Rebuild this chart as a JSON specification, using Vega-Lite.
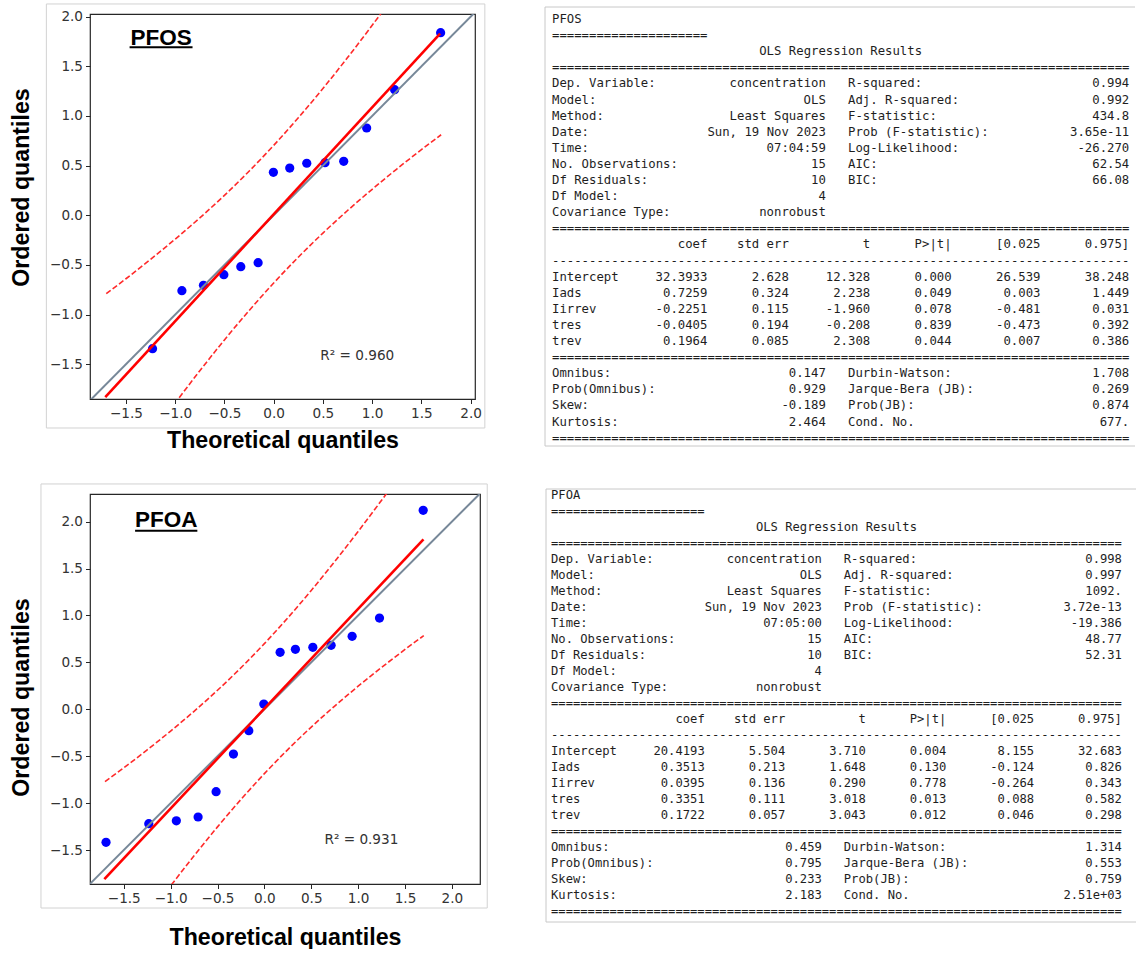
{
"$schema": "https://vega.github.io/schema/vega-lite/v6.json",
"padding": {"left": 9, "top": 2, "right": 0, "bottom": 0},
"background": "white",
"datasets": {
"one": [{}],
"pfos_pts": [
{"tq": -1.230, "oq": -1.343}, {"tq": -0.932, "oq": -0.759}, {"tq": -0.713, "oq": -0.705}, {"tq": -0.506, "oq": -0.598}, {"tq": -0.334, "oq": -0.518}, {"tq": -0.158, "oq": -0.477}, {"tq": -0.003, "oq": 0.433}, {"tq": 0.163, "oq": 0.476}, {"tq": 0.336, "oq": 0.524}, {"tq": 0.521, "oq": 0.530}, {"tq": 0.711, "oq": 0.544}, {"tq": 0.944, "oq": 0.879}, {"tq": 1.228, "oq": 1.265}, {"tq": 1.695, "oq": 1.839}
],
"pfoa_pts": [
{"tq": -1.689, "oq": -1.418}, {"tq": -1.233, "oq": -1.219}, {"tq": -0.939, "oq": -1.188}, {"tq": -0.707, "oq": -1.148}, {"tq": -0.515, "oq": -0.878}, {"tq": -0.330, "oq": -0.477}, {"tq": -0.166, "oq": -0.228}, {"tq": -0.006, "oq": 0.056}, {"tq": 0.168, "oq": 0.607}, {"tq": 0.331, "oq": 0.640}, {"tq": 0.517, "oq": 0.661}, {"tq": 0.712, "oq": 0.682}, {"tq": 0.936, "oq": 0.778}, {"tq": 1.228, "oq": 0.973}, {"tq": 1.694, "oq": 2.121}
],
"pfos_lines": [
{"s": "ref", "x": -2.5, "y": -2.5}, {"s": "ref", "x": 2.5, "y": 2.5},
{"s": "fit", "x": -1.71, "y": -1.83}, {"s": "fit", "x": 1.69, "y": 1.83},
{"s": "up", "x": -1.7, "y": -0.789}, {"s": "up", "x": -1.5, "y": -0.639}, {"s": "up", "x": -1.25, "y": -0.444}, {"s": "up", "x": -1.0, "y": -0.240}, {"s": "up", "x": -0.75, "y": -0.026}, {"s": "up", "x": -0.5, "y": 0.201}, {"s": "up", "x": -0.25, "y": 0.444}, {"s": "up", "x": 0, "y": 0.704}, {"s": "up", "x": 0.25, "y": 0.982}, {"s": "up", "x": 0.5, "y": 1.277}, {"s": "up", "x": 0.75, "y": 1.588}, {"s": "up", "x": 1.0, "y": 1.913}, {"s": "up", "x": 1.25, "y": 2.248},
{"s": "lo", "x": -1.25, "y": -2.226}, {"s": "lo", "x": -1.0, "y": -1.891}, {"s": "lo", "x": -0.75, "y": -1.566}, {"s": "lo", "x": -0.5, "y": -1.255}, {"s": "lo", "x": -0.25, "y": -0.960}, {"s": "lo", "x": 0, "y": -0.682}, {"s": "lo", "x": 0.25, "y": -0.422}, {"s": "lo", "x": 0.5, "y": -0.179}, {"s": "lo", "x": 0.75, "y": 0.048}, {"s": "lo", "x": 1.0, "y": 0.262}, {"s": "lo", "x": 1.25, "y": 0.466}, {"s": "lo", "x": 1.5, "y": 0.661}, {"s": "lo", "x": 1.7, "y": 0.811}
],
"pfoa_lines": [
{"s": "ref", "x": -2.5, "y": -2.5}, {"s": "ref", "x": 2.5, "y": 2.5},
{"s": "fit", "x": -1.707, "y": -1.809}, {"s": "fit", "x": 1.697, "y": 1.812},
{"s": "up", "x": -1.7, "y": -0.771}, {"s": "up", "x": -1.5, "y": -0.624}, {"s": "up", "x": -1.25, "y": -0.432}, {"s": "up", "x": -1.0, "y": -0.232}, {"s": "up", "x": -0.75, "y": -0.021}, {"s": "up", "x": -0.5, "y": 0.203}, {"s": "up", "x": -0.25, "y": 0.443}, {"s": "up", "x": 0, "y": 0.700}, {"s": "up", "x": 0.25, "y": 0.975}, {"s": "up", "x": 0.5, "y": 1.267}, {"s": "up", "x": 0.75, "y": 1.575}, {"s": "up", "x": 1.0, "y": 1.896}, {"s": "up", "x": 1.25, "y": 2.228}, {"s": "up", "x": 1.5, "y": 2.569},
{"s": "lo", "x": -1.25, "y": -2.214}, {"s": "lo", "x": -1.0, "y": -1.882}, {"s": "lo", "x": -0.75, "y": -1.561}, {"s": "lo", "x": -0.5, "y": -1.253}, {"s": "lo", "x": -0.25, "y": -0.961}, {"s": "lo", "x": 0, "y": -0.686}, {"s": "lo", "x": 0.25, "y": -0.429}, {"s": "lo", "x": 0.5, "y": -0.189}, {"s": "lo", "x": 0.75, "y": 0.035}, {"s": "lo", "x": 1.0, "y": 0.246}, {"s": "lo", "x": 1.25, "y": 0.446}, {"s": "lo", "x": 1.5, "y": 0.638}, {"s": "lo", "x": 1.7, "y": 0.785}
],
"pfos_tbl": [
{"r": 0, "c": 0, "t": "PFOS"},
{"r": 1, "c": 0, "t": "====================="},
{"r": 2, "c": 28, "t": "OLS Regression Results"},
{"r": 3, "c": 0, "t": "=============================================================================="},
{"r": 4, "c": 0, "t": "Dep. Variable:"}, {"r": 4, "c": 24, "t": "concentration"}, {"r": 4, "c": 40, "t": "R-squared:"}, {"r": 4, "c": 73, "t": "0.994"},
{"r": 5, "c": 0, "t": "Model:"}, {"r": 5, "c": 34, "t": "OLS"}, {"r": 5, "c": 40, "t": "Adj. R-squared:"}, {"r": 5, "c": 73, "t": "0.992"},
{"r": 6, "c": 0, "t": "Method:"}, {"r": 6, "c": 24, "t": "Least Squares"}, {"r": 6, "c": 40, "t": "F-statistic:"}, {"r": 6, "c": 73, "t": "434.8"},
{"r": 7, "c": 0, "t": "Date:"}, {"r": 7, "c": 21, "t": "Sun, 19 Nov 2023"}, {"r": 7, "c": 40, "t": "Prob (F-statistic):"}, {"r": 7, "c": 70, "t": "3.65e-11"},
{"r": 8, "c": 0, "t": "Time:"}, {"r": 8, "c": 29, "t": "07:04:59"}, {"r": 8, "c": 40, "t": "Log-Likelihood:"}, {"r": 8, "c": 71, "t": "-26.270"},
{"r": 9, "c": 0, "t": "No. Observations:"}, {"r": 9, "c": 35, "t": "15"}, {"r": 9, "c": 40, "t": "AIC:"}, {"r": 9, "c": 73, "t": "62.54"},
{"r": 10, "c": 0, "t": "Df Residuals:"}, {"r": 10, "c": 35, "t": "10"}, {"r": 10, "c": 40, "t": "BIC:"}, {"r": 10, "c": 73, "t": "66.08"},
{"r": 11, "c": 0, "t": "Df Model:"}, {"r": 11, "c": 36, "t": "4"},
{"r": 12, "c": 0, "t": "Covariance Type:"}, {"r": 12, "c": 28, "t": "nonrobust"},
{"r": 13, "c": 0, "t": "=============================================================================="},
{"r": 14, "c": 17, "t": "coef"}, {"r": 14, "c": 25, "t": "std err"}, {"r": 14, "c": 42, "t": "t"}, {"r": 14, "c": 49, "t": "P>|t|"}, {"r": 14, "c": 60, "t": "[0.025"}, {"r": 14, "c": 72, "t": "0.975]"},
{"r": 15, "c": 0, "t": "------------------------------------------------------------------------------"},
{"r": 16, "c": 0, "t": "Intercept"}, {"r": 16, "c": 14, "t": "32.3933"}, {"r": 16, "c": 27, "t": "2.628"}, {"r": 16, "c": 37, "t": "12.328"}, {"r": 16, "c": 49, "t": "0.000"}, {"r": 16, "c": 60, "t": "26.539"}, {"r": 16, "c": 72, "t": "38.248"},
{"r": 17, "c": 0, "t": "Iads"}, {"r": 17, "c": 15, "t": "0.7259"}, {"r": 17, "c": 27, "t": "0.324"}, {"r": 17, "c": 38, "t": "2.238"}, {"r": 17, "c": 49, "t": "0.049"}, {"r": 17, "c": 61, "t": "0.003"}, {"r": 17, "c": 73, "t": "1.449"},
{"r": 18, "c": 0, "t": "Iirrev"}, {"r": 18, "c": 14, "t": "-0.2251"}, {"r": 18, "c": 27, "t": "0.115"}, {"r": 18, "c": 37, "t": "-1.960"}, {"r": 18, "c": 49, "t": "0.078"}, {"r": 18, "c": 60, "t": "-0.481"}, {"r": 18, "c": 73, "t": "0.031"},
{"r": 19, "c": 0, "t": "tres"}, {"r": 19, "c": 14, "t": "-0.0405"}, {"r": 19, "c": 27, "t": "0.194"}, {"r": 19, "c": 37, "t": "-0.208"}, {"r": 19, "c": 49, "t": "0.839"}, {"r": 19, "c": 60, "t": "-0.473"}, {"r": 19, "c": 73, "t": "0.392"},
{"r": 20, "c": 0, "t": "trev"}, {"r": 20, "c": 15, "t": "0.1964"}, {"r": 20, "c": 27, "t": "0.085"}, {"r": 20, "c": 38, "t": "2.308"}, {"r": 20, "c": 49, "t": "0.044"}, {"r": 20, "c": 61, "t": "0.007"}, {"r": 20, "c": 73, "t": "0.386"},
{"r": 21, "c": 0, "t": "=============================================================================="},
{"r": 22, "c": 0, "t": "Omnibus:"}, {"r": 22, "c": 32, "t": "0.147"}, {"r": 22, "c": 40, "t": "Durbin-Watson:"}, {"r": 22, "c": 73, "t": "1.708"},
{"r": 23, "c": 0, "t": "Prob(Omnibus):"}, {"r": 23, "c": 32, "t": "0.929"}, {"r": 23, "c": 40, "t": "Jarque-Bera (JB):"}, {"r": 23, "c": 73, "t": "0.269"},
{"r": 24, "c": 0, "t": "Skew:"}, {"r": 24, "c": 31, "t": "-0.189"}, {"r": 24, "c": 40, "t": "Prob(JB):"}, {"r": 24, "c": 73, "t": "0.874"},
{"r": 25, "c": 0, "t": "Kurtosis:"}, {"r": 25, "c": 32, "t": "2.464"}, {"r": 25, "c": 40, "t": "Cond. No."}, {"r": 25, "c": 74, "t": "677."},
{"r": 26, "c": 0, "t": "=============================================================================="}
],
"pfoa_tbl": [
{"r": 0, "c": 0, "t": "PFOA"},
{"r": 1, "c": 0, "t": "====================="},
{"r": 2, "c": 28, "t": "OLS Regression Results"},
{"r": 3, "c": 0, "t": "=============================================================================="},
{"r": 4, "c": 0, "t": "Dep. Variable:"}, {"r": 4, "c": 24, "t": "concentration"}, {"r": 4, "c": 40, "t": "R-squared:"}, {"r": 4, "c": 73, "t": "0.998"},
{"r": 5, "c": 0, "t": "Model:"}, {"r": 5, "c": 34, "t": "OLS"}, {"r": 5, "c": 40, "t": "Adj. R-squared:"}, {"r": 5, "c": 73, "t": "0.997"},
{"r": 6, "c": 0, "t": "Method:"}, {"r": 6, "c": 24, "t": "Least Squares"}, {"r": 6, "c": 40, "t": "F-statistic:"}, {"r": 6, "c": 73, "t": "1092."},
{"r": 7, "c": 0, "t": "Date:"}, {"r": 7, "c": 21, "t": "Sun, 19 Nov 2023"}, {"r": 7, "c": 40, "t": "Prob (F-statistic):"}, {"r": 7, "c": 70, "t": "3.72e-13"},
{"r": 8, "c": 0, "t": "Time:"}, {"r": 8, "c": 29, "t": "07:05:00"}, {"r": 8, "c": 40, "t": "Log-Likelihood:"}, {"r": 8, "c": 71, "t": "-19.386"},
{"r": 9, "c": 0, "t": "No. Observations:"}, {"r": 9, "c": 35, "t": "15"}, {"r": 9, "c": 40, "t": "AIC:"}, {"r": 9, "c": 73, "t": "48.77"},
{"r": 10, "c": 0, "t": "Df Residuals:"}, {"r": 10, "c": 35, "t": "10"}, {"r": 10, "c": 40, "t": "BIC:"}, {"r": 10, "c": 73, "t": "52.31"},
{"r": 11, "c": 0, "t": "Df Model:"}, {"r": 11, "c": 36, "t": "4"},
{"r": 12, "c": 0, "t": "Covariance Type:"}, {"r": 12, "c": 28, "t": "nonrobust"},
{"r": 13, "c": 0, "t": "=============================================================================="},
{"r": 14, "c": 17, "t": "coef"}, {"r": 14, "c": 25, "t": "std err"}, {"r": 14, "c": 42, "t": "t"}, {"r": 14, "c": 49, "t": "P>|t|"}, {"r": 14, "c": 60, "t": "[0.025"}, {"r": 14, "c": 72, "t": "0.975]"},
{"r": 15, "c": 0, "t": "------------------------------------------------------------------------------"},
{"r": 16, "c": 0, "t": "Intercept"}, {"r": 16, "c": 14, "t": "20.4193"}, {"r": 16, "c": 27, "t": "5.504"}, {"r": 16, "c": 38, "t": "3.710"}, {"r": 16, "c": 49, "t": "0.004"}, {"r": 16, "c": 61, "t": "8.155"}, {"r": 16, "c": 72, "t": "32.683"},
{"r": 17, "c": 0, "t": "Iads"}, {"r": 17, "c": 15, "t": "0.3513"}, {"r": 17, "c": 27, "t": "0.213"}, {"r": 17, "c": 38, "t": "1.648"}, {"r": 17, "c": 49, "t": "0.130"}, {"r": 17, "c": 60, "t": "-0.124"}, {"r": 17, "c": 73, "t": "0.826"},
{"r": 18, "c": 0, "t": "Iirrev"}, {"r": 18, "c": 15, "t": "0.0395"}, {"r": 18, "c": 27, "t": "0.136"}, {"r": 18, "c": 38, "t": "0.290"}, {"r": 18, "c": 49, "t": "0.778"}, {"r": 18, "c": 60, "t": "-0.264"}, {"r": 18, "c": 73, "t": "0.343"},
{"r": 19, "c": 0, "t": "tres"}, {"r": 19, "c": 15, "t": "0.3351"}, {"r": 19, "c": 27, "t": "0.111"}, {"r": 19, "c": 38, "t": "3.018"}, {"r": 19, "c": 49, "t": "0.013"}, {"r": 19, "c": 61, "t": "0.088"}, {"r": 19, "c": 73, "t": "0.582"},
{"r": 20, "c": 0, "t": "trev"}, {"r": 20, "c": 15, "t": "0.1722"}, {"r": 20, "c": 27, "t": "0.057"}, {"r": 20, "c": 38, "t": "3.043"}, {"r": 20, "c": 49, "t": "0.012"}, {"r": 20, "c": 61, "t": "0.046"}, {"r": 20, "c": 73, "t": "0.298"},
{"r": 21, "c": 0, "t": "=============================================================================="},
{"r": 22, "c": 0, "t": "Omnibus:"}, {"r": 22, "c": 32, "t": "0.459"}, {"r": 22, "c": 40, "t": "Durbin-Watson:"}, {"r": 22, "c": 73, "t": "1.314"},
{"r": 23, "c": 0, "t": "Prob(Omnibus):"}, {"r": 23, "c": 32, "t": "0.795"}, {"r": 23, "c": 40, "t": "Jarque-Bera (JB):"}, {"r": 23, "c": 73, "t": "0.553"},
{"r": 24, "c": 0, "t": "Skew:"}, {"r": 24, "c": 32, "t": "0.233"}, {"r": 24, "c": 40, "t": "Prob(JB):"}, {"r": 24, "c": 73, "t": "0.759"},
{"r": 25, "c": 0, "t": "Kurtosis:"}, {"r": 25, "c": 32, "t": "2.183"}, {"r": 25, "c": 40, "t": "Cond. No."}, {"r": 25, "c": 70, "t": "2.51e+03"},
{"r": 26, "c": 0, "t": "=============================================================================="}
]
},
"spacing": 30,
"vconcat": [
{
"spacing": 58,
"hconcat": [
{
"width": 385, "height": 385,
"layer": [
{"data": {"name": "one"}, "mark": {"type": "rect", "fill": "white", "fillOpacity": 0, "stroke": "#d2d2d2", "strokeWidth": 1},
 "encoding": {"x": {"datum": -2.308, "type": "quantitative"}, "x2": {"datum": 2.144}, "y": {"datum": 2.128, "type": "quantitative"}, "y2": {"datum": -2.142}}},
{"data": {"name": "pfos_pts"},
 "mark": {"type": "point", "filled": true, "color": "#0000ff", "size": 85, "opacity": 1},
 "encoding": {
  "x": {"field": "tq", "type": "quantitative", "scale": {"domain": [-1.865, 2.044], "nice": false, "zero": false},
   "axis": {"values": [-1.5, -1, -0.5, 0, 0.5, 1, 1.5, 2], "format": ".1f", "title": "Theoretical quantiles", "titlePadding": 9}},
  "y": {"field": "oq", "type": "quantitative", "scale": {"domain": [-1.85, 2.027], "nice": false, "zero": false},
   "axis": {"values": [-1.5, -1, -0.5, 0, 0.5, 1, 1.5, 2], "format": ".1f", "title": "Ordered quantiles", "titlePadding": 15.5, "titleY": 173}}
 }},
{"data": {"name": "pfos_lines"}, "transform": [{"filter": "datum.s === 'ref'"}],
 "mark": {"type": "line", "color": "#778899", "strokeWidth": 2, "clip": true},
 "encoding": {"x": {"field": "x", "type": "quantitative"}, "y": {"field": "y", "type": "quantitative"}}},
{"data": {"name": "pfos_lines"}, "transform": [{"filter": "datum.s === 'up' || datum.s === 'lo'"}],
 "mark": {"type": "line", "color": "#ff2a2a", "strokeWidth": 1.6, "strokeDash": [5.5, 2.5], "clip": true, "interpolate": "monotone"},
 "encoding": {"x": {"field": "x", "type": "quantitative"}, "y": {"field": "y", "type": "quantitative"}, "detail": {"field": "s"}}},
{"data": {"name": "pfos_lines"}, "transform": [{"filter": "datum.s === 'fit'"}],
 "mark": {"type": "line", "color": "#ff0000", "strokeWidth": 2.6, "clip": true},
 "encoding": {"x": {"field": "x", "type": "quantitative"}, "y": {"field": "y", "type": "quantitative"}}},
{"data": {"name": "one"}, "mark": {"type": "text", "text": "PFOS", "font": "Liberation Sans", "fontSize": 22.5, "fontWeight": "bold", "align": "center", "baseline": "alphabetic", "color": "#000"},
 "encoding": {"x": {"datum": -1.144, "type": "quantitative"}, "y": {"datum": 1.711, "type": "quantitative"}}},
{"data": {"name": "one"}, "mark": {"type": "rule", "color": "#000", "strokeWidth": 2},
 "encoding": {"x": {"datum": -1.463, "type": "quantitative"}, "x2": {"datum": -0.824}, "y": {"datum": 1.692, "type": "quantitative"}}},
{"data": {"name": "one"}, "mark": {"type": "text", "text": "R² = 0.960", "font": "DejaVu Sans", "fontSize": 13.6, "align": "left", "baseline": "middle", "color": "#333"},
 "encoding": {"x": {"datum": 0.474, "type": "quantitative"}, "y": {"datum": -1.417, "type": "quantitative"}}}
]
},
{
"width": 590, "height": 432,
"view": {"stroke": null},
"layer": [
{"data": {"name": "pfos_tbl"},
 "mark": {"type": "text", "align": "left", "baseline": "middle", "font": "DejaVu Sans Mono", "fontSize": 12.3, "color": "#1e1e1e"},
 "encoding": {
  "x": {"field": "c", "type": "quantitative", "scale": {"domain": [-0.946, 78.78], "nice": false, "zero": false}, "axis": null},
  "y": {"field": "r", "type": "quantitative", "scale": {"domain": [-0.311, 26.52], "nice": false, "zero": false, "reverse": true}, "axis": null},
  "text": {"field": "t"}
 }},
{"data": {"name": "one"}, "mark": {"type": "rule", "color": "#c8c8c8", "strokeWidth": 1},
 "encoding": {"x": {"datum": -0.946, "type": "quantitative"}, "x2": {"datum": 78.78}, "y": {"datum": -0.745, "type": "quantitative"}}},
{"data": {"name": "one"}, "mark": {"type": "rule", "color": "#c8c8c8", "strokeWidth": 1},
 "encoding": {"x": {"datum": -0.946, "type": "quantitative"}, "x2": {"datum": 78.78}, "y": {"datum": 26.52, "type": "quantitative"}}},
{"data": {"name": "one"}, "mark": {"type": "rule", "color": "#c8c8c8", "strokeWidth": 1},
 "encoding": {"x": {"datum": -0.946, "type": "quantitative"}, "y": {"datum": -0.745, "type": "quantitative"}, "y2": {"datum": 26.52}}}
]
}
]
},
{
"spacing": 56,
"hconcat": [
{
"width": 390, "height": 390,
"layer": [
{"data": {"name": "one"}, "mark": {"type": "rect", "fill": "white", "fillOpacity": 0, "stroke": "#d2d2d2", "strokeWidth": 1},
 "encoding": {"x": {"datum": -2.383, "type": "quantitative"}, "x2": {"datum": 2.377}, "y": {"datum": 2.402, "type": "quantitative"}, "y2": {"datum": -2.118}}},
{"data": {"name": "pfoa_pts"},
 "mark": {"type": "point", "filled": true, "color": "#0000ff", "size": 85, "opacity": 1},
 "encoding": {
  "x": {"field": "tq", "type": "quantitative", "scale": {"domain": [-1.86, 2.30], "nice": false, "zero": false},
   "axis": {"values": [-1.5, -1, -0.5, 0, 0.5, 1, 1.5, 2], "format": ".1f", "title": "Theoretical quantiles", "titlePadding": 21}},
  "y": {"field": "oq", "type": "quantitative", "scale": {"domain": [-1.862, 2.295], "nice": false, "zero": false},
   "axis": {"values": [-1.5, -1, -0.5, 0, 0.5, 1, 1.5, 2], "format": ".1f", "title": "Ordered quantiles", "titlePadding": 15.5, "titleY": 203}}
 }},
{"data": {"name": "pfoa_lines"}, "transform": [{"filter": "datum.s === 'ref'"}],
 "mark": {"type": "line", "color": "#778899", "strokeWidth": 2, "clip": true},
 "encoding": {"x": {"field": "x", "type": "quantitative"}, "y": {"field": "y", "type": "quantitative"}}},
{"data": {"name": "pfoa_lines"}, "transform": [{"filter": "datum.s === 'up' || datum.s === 'lo'"}],
 "mark": {"type": "line", "color": "#ff2a2a", "strokeWidth": 1.6, "strokeDash": [5.5, 2.5], "clip": true, "interpolate": "monotone"},
 "encoding": {"x": {"field": "x", "type": "quantitative"}, "y": {"field": "y", "type": "quantitative"}, "detail": {"field": "s"}}},
{"data": {"name": "pfoa_lines"}, "transform": [{"filter": "datum.s === 'fit'"}],
 "mark": {"type": "line", "color": "#ff0000", "strokeWidth": 2.6, "clip": true},
 "encoding": {"x": {"field": "x", "type": "quantitative"}, "y": {"field": "y", "type": "quantitative"}}},
{"data": {"name": "one"}, "mark": {"type": "text", "text": "PFOA", "font": "Liberation Sans", "fontSize": 22.5, "fontWeight": "bold", "align": "center", "baseline": "alphabetic", "color": "#000"},
 "encoding": {"x": {"datum": -1.046, "type": "quantitative"}, "y": {"datum": 1.943, "type": "quantitative"}}},
{"data": {"name": "one"}, "mark": {"type": "rule", "color": "#000", "strokeWidth": 2},
 "encoding": {"x": {"datum": -1.379, "type": "quantitative"}, "x2": {"datum": -0.715}, "y": {"datum": 1.904, "type": "quantitative"}}},
{"data": {"name": "one"}, "mark": {"type": "text", "text": "R² = 0.931", "font": "DejaVu Sans", "fontSize": 13.6, "align": "left", "baseline": "middle", "color": "#333"},
 "encoding": {"x": {"datum": 0.641, "type": "quantitative"}, "y": {"datum": -1.393, "type": "quantitative"}}}
]
},
{
"width": 590, "height": 428,
"view": {"stroke": null},
"layer": [
{"data": {"name": "pfoa_tbl"},
 "mark": {"type": "text", "align": "left", "baseline": "middle", "font": "DejaVu Sans Mono", "fontSize": 12.16, "color": "#1e1e1e"},
 "encoding": {
  "x": {"field": "c", "type": "quantitative", "scale": {"domain": [-0.683, 79.92], "nice": false, "zero": false}, "axis": null},
  "y": {"field": "r", "type": "quantitative", "scale": {"domain": [-0.0625, 26.70], "nice": false, "zero": false, "reverse": true}, "axis": null},
  "text": {"field": "t"}
 }},
{"data": {"name": "one"}, "mark": {"type": "rule", "color": "#c8c8c8", "strokeWidth": 1},
 "encoding": {"x": {"datum": -0.683, "type": "quantitative"}, "x2": {"datum": 79.92}, "y": {"datum": -0.375, "type": "quantitative"}}},
{"data": {"name": "one"}, "mark": {"type": "rule", "color": "#c8c8c8", "strokeWidth": 1},
 "encoding": {"x": {"datum": -0.683, "type": "quantitative"}, "x2": {"datum": 79.92}, "y": {"datum": 26.70, "type": "quantitative"}}},
{"data": {"name": "one"}, "mark": {"type": "rule", "color": "#c8c8c8", "strokeWidth": 1},
 "encoding": {"x": {"datum": -0.683, "type": "quantitative"}, "y": {"datum": -0.375, "type": "quantitative"}, "y2": {"datum": 26.70}}}
]
}
]
}
],
"config": {
"view": {"stroke": "#262626", "strokeWidth": 1.2},
"font": "DejaVu Sans",
"axis": {"grid": false, "domain": false, "tickColor": "#262626", "tickSize": 4.5, "tickWidth": 1, "labelFont": "DejaVu Sans", "labelFontSize": 13.6, "labelColor": "#333", "labelPadding": 3, "labelFlush": false, "labelOverlap": false, "labelBound": false, "titleFont": "Liberation Sans", "titleFontSize": 23.2, "titleFontWeight": "bold", "titleColor": "#000"}
}
}
